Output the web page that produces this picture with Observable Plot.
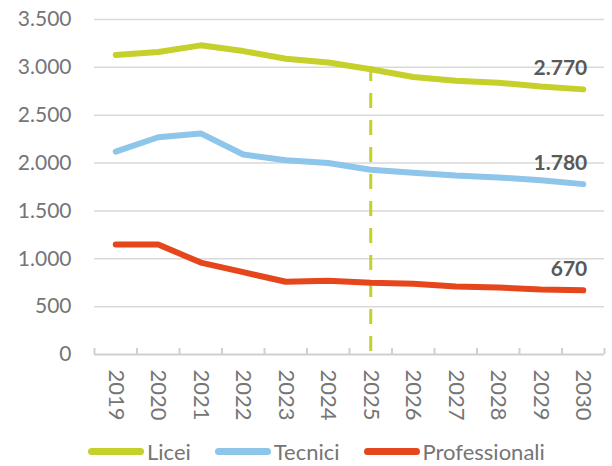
<!DOCTYPE html>
<html>
<head>
<meta charset="utf-8">
<script src="https://cdn.jsdelivr.net/npm/d3@7"></script>
<script src="https://cdn.jsdelivr.net/npm/@observablehq/plot@0.6"></script>
<style>
  html, body { margin: 0; padding: 0; background: #fff; }
  body { width: 612px; height: 466px; overflow: hidden; font-family: Lato, sans-serif; }
  #chart svg { display: block; }
  #legend { display: flex; align-items: center; padding-left: 88px; margin-top: 3px; height: 21px; }
  .item { display: flex; align-items: center; margin-right: 24px; font-size: 22px; color: #757575; line-height: 21px; height: 21px; }
  .sw { width: 56px; height: 7px; border-radius: 4px; margin-right: 3px; }
</style>
</head>
<body>
<div id="chart"></div>
<div id="legend"></div>
<script>
const years = [2019, 2020, 2021, 2022, 2023, 2024, 2025, 2026, 2027, 2028, 2029, 2030];
const licei = [3130, 3160, 3230, 3170, 3090, 3050, 2980, 2900, 2860, 2840, 2800, 2770];
const tecnici = [2120, 2270, 2310, 2090, 2030, 2000, 1930, 1900, 1870, 1850, 1820, 1780];
const professionali = [1150, 1150, 960, 860, 760, 770, 750, 740, 710, 700, 680, 670];
const seriesNames = ["Licei", "Tecnici", "Professionali"];
const seriesColors = ["#c5d02a", "#8ec5ea", "#e5461b"];
const yTicks = [0, 500, 1000, 1500, 2000, 2500, 3000, 3500];
const forecastYear = 2025;
const forecastTop = 3010;

const seriesValues = [licei, tecnici, professionali];
const rows = seriesNames.flatMap((name, i) => years.map((year, j) => ({name, year, value: seriesValues[i][j]})));
const lastRows = seriesNames.map((name, i) => ({name, year: years[years.length - 1], value: seriesValues[i][years.length - 1]}));
const bounds = [...years.map(y => y - 0.5), years[years.length - 1] + 0.5];
const fmt = d3.formatLocale({decimal: ",", thousands: ".", grouping: [3], currency: ["", "€"]}).format(",");

const H = 438, mTop = 19, mBottom = 84;
const yMax = 3500;
const tickLen = 6 * yMax / (H - mTop - mBottom);

const chart = Plot.plot({
  width: 612,
  height: H,
  marginTop: mTop,
  marginBottom: mBottom,
  marginLeft: 94,
  marginRight: 8,
  style: {fontFamily: "Lato, sans-serif", fontSize: "21px", background: "white"},
  x: {type: "linear", domain: [years[0] - 0.5, years[years.length - 1] + 0.5], axis: null},
  y: {domain: [0, yMax], axis: null},
  color: {domain: seriesNames, range: seriesColors},
  marks: [
    Plot.ruleY(yTicks.filter(d => d > 0), {stroke: "#d9d9d9", strokeWidth: 1.5}),
    Plot.ruleY([0], {stroke: "#d0d0d0", strokeWidth: 2}),
    Plot.ruleX(bounds, {y1: 0, y2: tickLen, stroke: "#d0d0d0", strokeWidth: 2}),
    Plot.text(yTicks, {x: years[0] - 0.5, y: d => d, text: d => fmt(d), textAnchor: "end", dx: -23, fill: "#757575", fontSize: 21}),
    Plot.text(years, {x: d => d, y: 0, text: d => String(d), rotate: 90, textAnchor: "start", lineAnchor: "middle", dy: 15, fill: "#757575", fontSize: 22}),
    Plot.ruleX([forecastYear], {y1: forecastTop, y2: 0, stroke: seriesColors[0], strokeWidth: 3, strokeDasharray: "15,12"}),
    Plot.lineY(rows, {x: "year", y: "value", z: "name", stroke: "name", strokeWidth: 6, strokeLinecap: "round", strokeLinejoin: "round"}),
    Plot.text(lastRows, {x: "year", y: "value", text: d => fmt(d.value), textAnchor: "end", dx: 4, dy: -21, fill: "#595959", fontWeight: "bold", fontSize: 21})
  ]
});
document.getElementById("chart").appendChild(chart);

const legend = document.getElementById("legend");
seriesNames.forEach((name, i) => {
  const item = document.createElement("div");
  item.className = "item";
  const sw = document.createElement("div");
  sw.className = "sw";
  sw.style.background = seriesColors[i];
  const label = document.createElement("span");
  label.textContent = name;
  item.appendChild(sw);
  item.appendChild(label);
  legend.appendChild(item);
});
</script>
</body>
</html>
